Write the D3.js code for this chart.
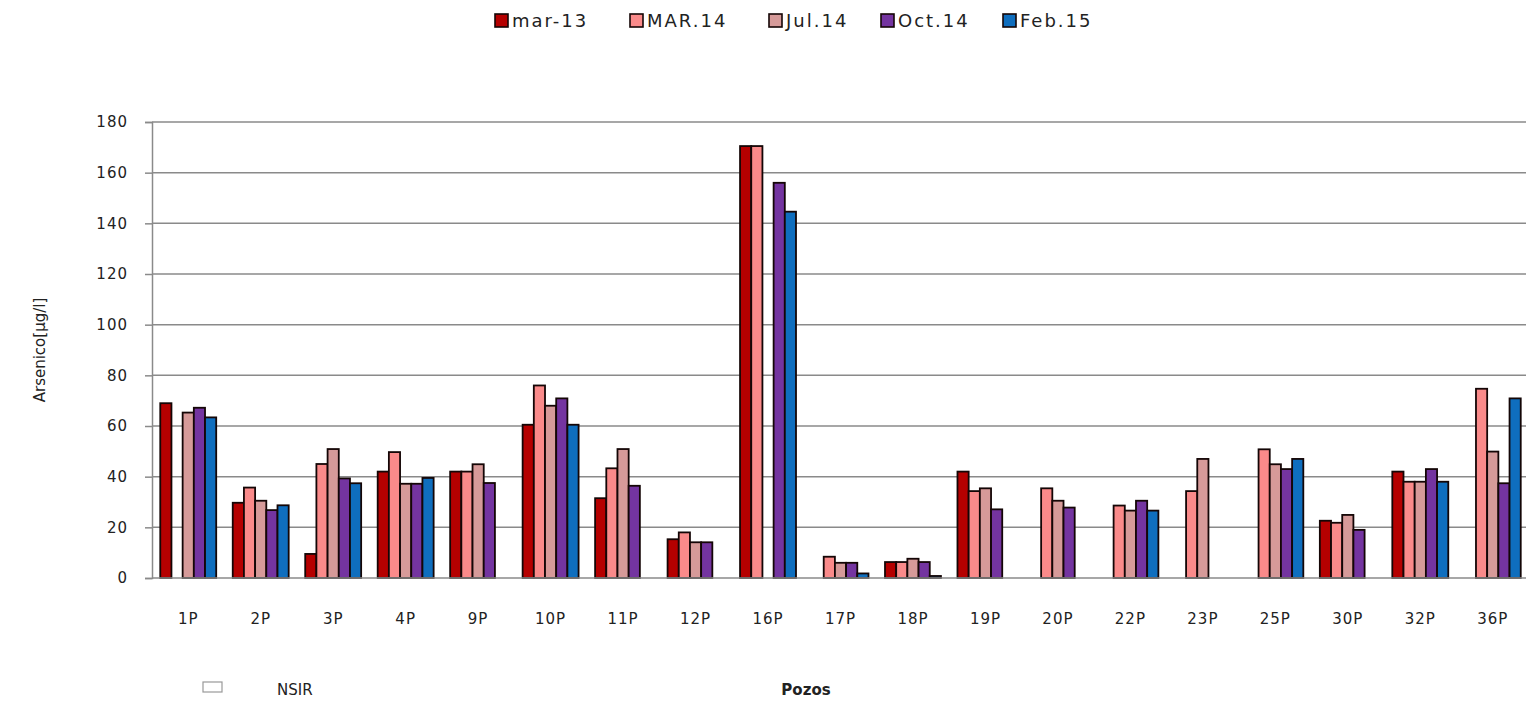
<!DOCTYPE html>
<html lang="es">
<head>
  <meta charset="UTF-8"/>
  <title>Arsenico por pozo</title>
  <script src="https://d3js.org/d3.v7.min.js"></script>
  <style>
    body { margin: 0; background: #fff; }
    text { font-family: "DejaVu Sans", Verdana, sans-serif; fill: #222; }
  </style>
</head>
<body>
<svg id="chart"></svg>
<script>
// categories (wells) and sampling campaigns
var pozos = ["1P","2P","3P","4P","9P","10P","11P","12P","16P","17P","18P","19P","20P","22P","23P","25P","30P","32P","36P"];
var series = ["mar-13","MAR.14","Jul.14","Oct.14","Feb.15"];
var colors = ["#B50000","#FA8A8A","#D69A99","#7434A0","#0F6EBE"];

// values per campaign (null = no bar)
var mar13 = [69, 29.7, 9.5, 42, 42, 60.5, 31.5, 15.3, 170.5, null, 6.3, 42, null, null, null, null, 22.6, 42, null];
var mar14 = [null, 35.7, 45, 49.7, 42, 76, 43.3, 18, 170.5, 8.4, 6.3, 34.3, 35.4, 28.6, 34.3, 50.8, 21.8, 38, 74.7];
var jul14 = [65.3, 30.5, 50.9, 37.2, 44.9, 68, 50.9, 14.1, null, 6, 7.6, 35.4, 30.5, 26.6, 47, 44.9, 24.9, 38, 49.9];
var oct14 = [67.2, 26.8, 39.3, 37.2, 37.5, 70.9, 36.4, 14.1, 156, 6, 6.3, 27.1, 27.8, 30.5, null, 43, 19, 43, 37.4];
var feb15 = [63.4, 28.7, 37.4, 39.5, null, 60.5, null, null, 144.6, 1.8, 0.8, null, null, 26.6, null, 47, null, 38, 70.9];
var yTicks = [0, 20, 40, 60, 80, 100, 120, 140, 160, 180];

var values = [mar13, mar14, jul14, oct14, feb15];

var width = 1526, height = 702;
var svg = d3.select("#chart").attr("width", width).attr("height", height);

var plotLeft = 152, plotRight = 1529, plotTop = 122, plotBottom = 578;

var y = d3.scaleLinear().domain([0, 180]).range([plotBottom, plotTop]);
var x0 = d3.scaleBand().domain(pozos).range([plotLeft, plotRight])
    .paddingInner(0.228).paddingOuter(0.114);
var x1 = d3.scaleBand().domain(series).range([0, x0.bandwidth()]);
var color = d3.scaleOrdinal().domain(series).range(colors);

// gridlines
svg.append("g").selectAll("line")
    .data(yTicks.slice(1))
    .join("line")
    .attr("x1", plotLeft).attr("x2", width)
    .attr("y1", d => y(d)).attr("y2", d => y(d))
    .attr("stroke", "#8a8a8a").attr("stroke-width", 1.5);

// bars
var rows = [];
pozos.forEach(function(p, i) {
    series.forEach(function(s, j) {
        if (values[j][i] != null) rows.push({pozo: p, serie: s, value: values[j][i]});
    });
});
svg.append("g").selectAll("rect")
    .data(rows)
    .join("rect")
    .attr("x", d => x0(d.pozo) + x1(d.serie))
    .attr("y", d => y(d.value))
    .attr("width", x1.bandwidth())
    .attr("height", d => y(0) - y(d.value))
    .attr("fill", d => color(d.serie))
    .attr("stroke", "#140606").attr("stroke-width", 1.8);

// y axis
var yAxis = svg.append("g")
    .attr("transform", "translate(" + plotLeft + ",0)")
    .call(d3.axisLeft(y).tickValues(yTicks).tickSize(7).tickPadding(17));
yAxis.select(".domain").attr("stroke", "#8a8a8a").attr("stroke-width", 1.5);
yAxis.selectAll(".tick line").attr("stroke", "#8a8a8a").attr("stroke-width", 1.5);
yAxis.selectAll(".tick text").style("font-size", "15px").style("letter-spacing", "1px").attr("fill", "#222");

// x axis baseline
svg.append("line")
    .attr("x1", plotLeft).attr("x2", width)
    .attr("y1", y(0)).attr("y2", y(0))
    .attr("stroke", "#8a8a8a").attr("stroke-width", 1.5);

// x labels
svg.append("g").selectAll("text")
    .data(pozos)
    .join("text")
    .attr("x", d => x0(d) + x0.bandwidth() / 2)
    .attr("y", 624)
    .attr("text-anchor", "middle")
    .style("font-size", "15px").style("letter-spacing", "1px")
    .text(d => d);

// y title
svg.append("text")
    .attr("transform", "translate(45,350) rotate(-90)")
    .attr("text-anchor", "middle")
    .style("font-size", "15px")
    .text("Arsenico[µg/l]");

// x title
svg.append("text")
    .attr("x", 806).attr("y", 695)
    .attr("text-anchor", "middle")
    .style("font-size", "15px").style("font-weight", "bold")
    .text("Pozos");

// NSIR key
svg.append("rect")
    .attr("x", 203).attr("y", 682).attr("width", 19).attr("height", 10)
    .attr("fill", "#fff").attr("stroke", "#999").attr("stroke-width", 1.2);
svg.append("text")
    .attr("x", 277).attr("y", 695)
    .style("font-size", "15px")
    .text("NSIR");

// legend
var legendX = [495, 630, 769, 881, 1003];
var legend = svg.append("g").selectAll("g")
    .data(series)
    .join("g")
    .attr("transform", (d, i) => "translate(" + legendX[i] + ",14)");
legend.append("rect")
    .attr("width", 13).attr("height", 13)
    .attr("fill", d => color(d))
    .attr("stroke", "#140606").attr("stroke-width", 1.6);
legend.append("text")
    .attr("x", 17).attr("y", 13)
    .style("font-size", "18px").style("letter-spacing", "2px")
    .text(d => d);
</script>
</body>
</html>
